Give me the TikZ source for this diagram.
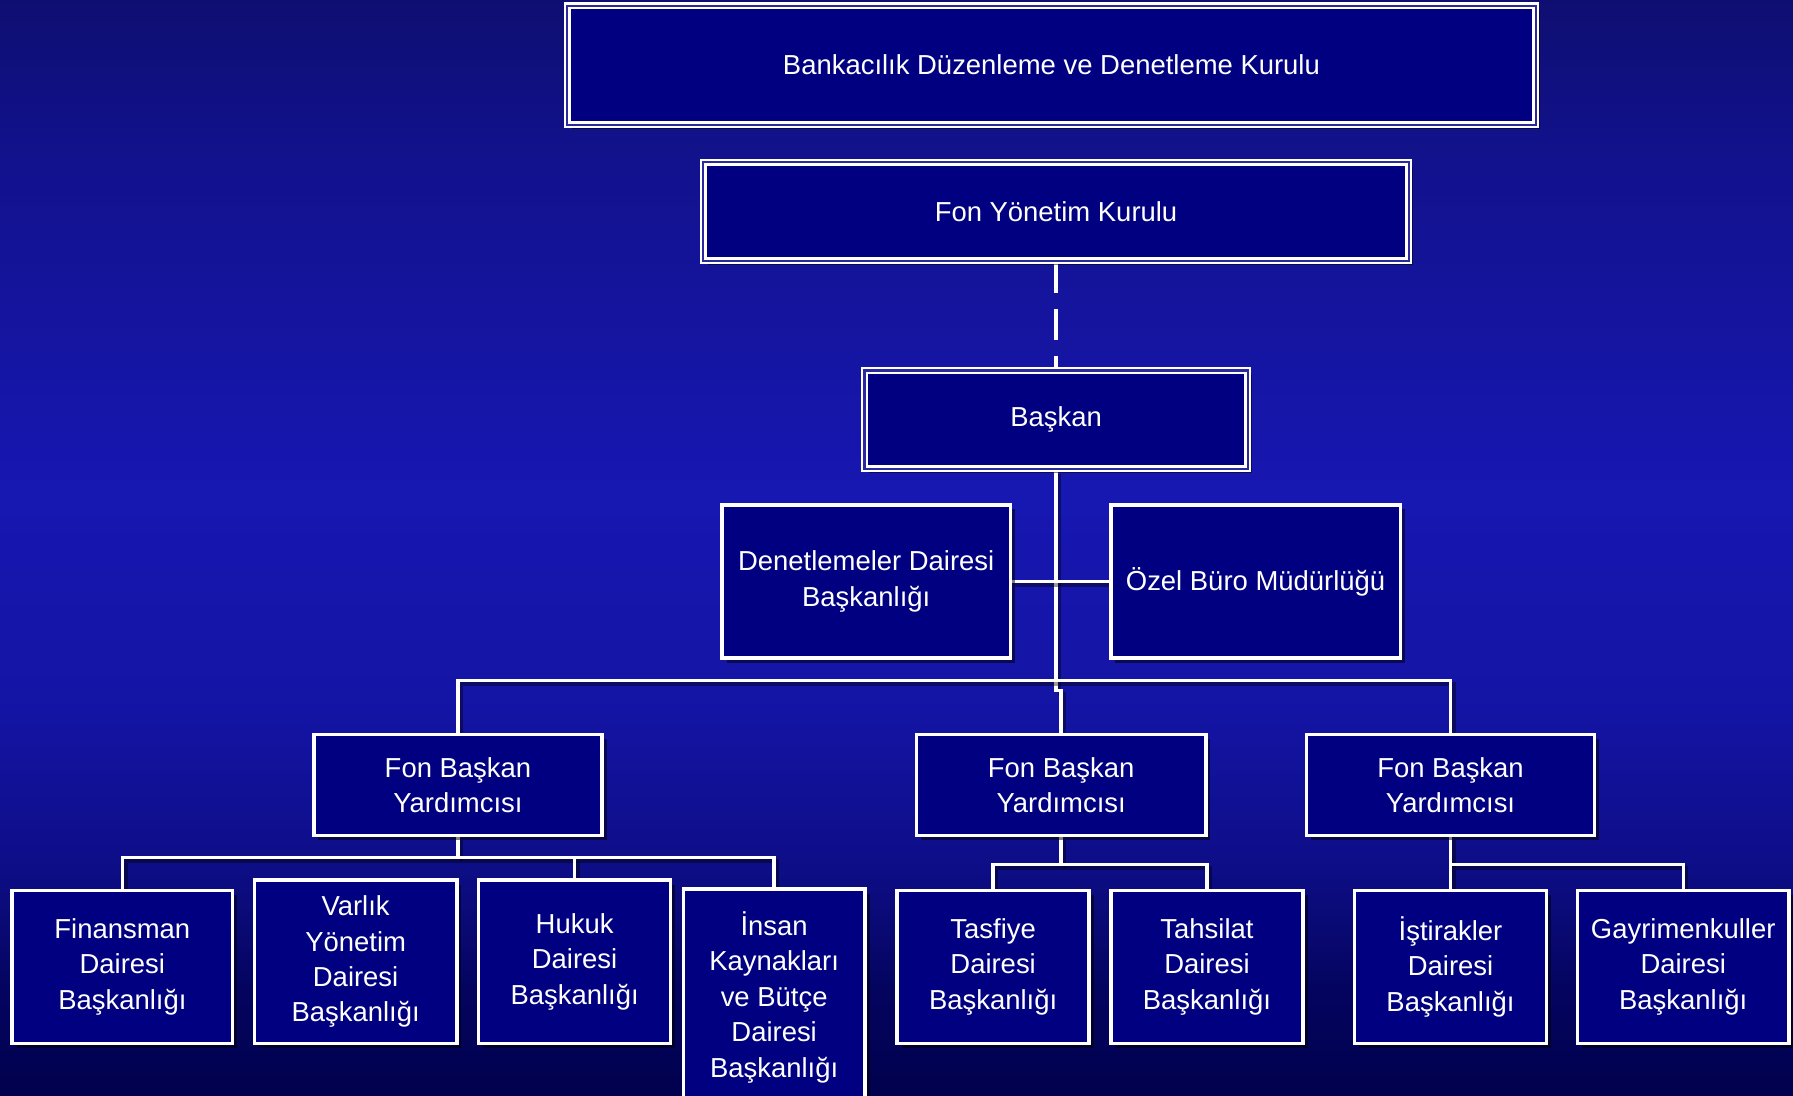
\documentclass[tikz,border=0pt]{standalone}
\usepackage{fontspec}
\setmainfont{Liberation Sans}
\usetikzlibrary{shadows}
\definecolor{boxfill}{HTML}{000080}
\definecolor{dblgap}{HTML}{2A2A9E}
\definecolor{bgA}{HTML}{01014E}
\definecolor{bgB}{HTML}{040460}
\definecolor{bgC}{HTML}{090972}
\definecolor{bgD}{HTML}{0E0E8A}
\definecolor{bgE}{HTML}{1414A4}
\definecolor{bgF}{HTML}{1717B2}
\definecolor{bgG}{HTML}{12128E}
\definecolor{bgH}{HTML}{0E0E72}
\pgfdeclareverticalshading{bgshade}{100bp}{color(0bp)=(bgA); color(25bp)=(bgA); color(30bp)=(bgB); color(32.5bp)=(bgC); color(36bp)=(bgD); color(42.5bp)=(bgE); color(52.5bp)=(bgF); color(67.5bp)=(bgG); color(75bp)=(bgH); color(100bp)=(bgH)}
\pgfdeclarelayer{bglayer}
\pgfdeclarelayer{linelayer}
\pgfsetlayers{bglayer,linelayer,main}
\tikzset{
  orgbox/.style={draw=white, line width=3pt, fill=boxfill, text=white, align=center,
    inner sep=0pt, font=\fontsize{24}{31}\selectfont,
    drop shadow={shadow xshift=4pt, shadow yshift=-4pt, fill=black, opacity=0.5}},
  dblbox/.style={orgbox, line width=2.2pt, double=dblgap, double distance=1.8pt},
  conn/.style={draw=white, line width=3pt,
    preaction={draw=black, opacity=0.4, line width=3pt, transform canvas={shift={(3pt,-3pt)}}}},
  dashconn/.style={draw=white, line width=3pt, dash pattern=on 27pt off 14pt}
}
\begin{document}
\begin{tikzpicture}[x=1pt,y=-1pt]
\useasboundingbox (0,0) rectangle (1568,958);
\begin{pgfonlayer}{bglayer}
\shade[shading=bgshade] (0,0) rectangle (1568,958);
\end{pgfonlayer}

% top levels
\node[dblbox, minimum width=847pt, minimum height=104pt] (bddk) at (919.5,57) {Bankacılık Düzenleme ve Denetleme Kurulu};
\node[dblbox, minimum width=617pt, minimum height=86pt] (fyk) at (923.5,185) {Fon Yönetim Kurulu};
\node[dblbox, minimum width=335pt, minimum height=86pt] (baskan) at (923.5,367) {\raisebox{-2pt}{Başkan}};

% staff units
\node[orgbox, minimum width=252pt, minimum height=134pt] (denet) at (757.5,508.5) {\raisebox{-2pt}{Denetlemeler Dairesi}\\\raisebox{-2pt}{Başkanlığı}};
\node[orgbox, minimum width=253pt, minimum height=134pt] (ozel) at (1098,508.5) {Özel Büro Müdürlüğü};

% vice presidents
\node[orgbox, minimum width=252pt, minimum height=88pt] (fbyl) at (400.5,686.5) {Fon Başkan\\Yardımcısı};
\node[orgbox, minimum width=253pt, minimum height=88pt] (fbym) at (928,686.5) {Fon Başkan\\Yardımcısı};
\node[orgbox, minimum width=252pt, minimum height=88pt] (fbyr) at (1268.5,686.5) {Fon Başkan\\Yardımcısı};

% departments
\node[orgbox, minimum width=193pt, minimum height=134pt] (fin) at (107,845.5) {Finansman\\Dairesi\\Başkanlığı};
\node[orgbox, minimum width=177pt, minimum height=143pt] (varlik) at (311,841) {Varlık\\Yönetim\\Dairesi\\Başkanlığı};
\node[orgbox, minimum width=168pt, minimum height=143pt] (hukuk) at (502.5,841) {Hukuk\\Dairesi\\Başkanlığı};
\node[orgbox, minimum width=159pt, minimum height=189pt] (insan) at (677,872) {İnsan\\Kaynakları\\ve Bütçe\\Dairesi\\Başkanlığı};
\node[orgbox, minimum width=168pt, minimum height=134pt] (tasfiye) at (868.5,845.5) {Tasfiye\\Dairesi\\Başkanlığı};
\node[orgbox, minimum width=168pt, minimum height=134pt] (tahsilat) at (1055.5,845.5) {Tahsilat\\Dairesi\\Başkanlığı};
\node[orgbox, minimum width=168pt, minimum height=134pt] (istirak) at (1268.5,845.5) {İştirakler\\Dairesi\\Başkanlığı};
\node[orgbox, minimum width=185pt, minimum height=134pt] (gayri) at (1472,845.5) {Gayrimenkuller\\Dairesi\\Başkanlığı};

% helper coordinates for bus lines
\coordinate (bar) at (0,595);
\coordinate (jog) at (0,604);
\coordinate (lbar) at (0,750);
\coordinate (mbar) at (0,756);

\begin{pgfonlayer}{linelayer}
\draw[dashconn] (fyk.south) -- (baskan.north);
\draw[conn] (baskan.south) -- (baskan.south |- jog) -| (fbym.north);
\draw[conn] (denet.east) -- (ozel.west);
\draw[conn] (fbyl.north) -- (fbyl.north |- bar) -- (fbyr.north |- bar) -- (fbyr.north);
% left group
\draw[conn] (fbyl.south) -- (fbyl.south |- lbar);
\draw[conn] (fin.north) -- (fin.north |- lbar) -- (insan.north |- lbar) -- (insan.north);
\draw[conn] (hukuk.north |- lbar) -- (hukuk.north);
% middle group
\draw[conn] (fbym.south) -- (fbym.south |- mbar);
\draw[conn] (tasfiye.north) -- (tasfiye.north |- mbar) -- (tahsilat.north |- mbar) -- (tahsilat.north);
% right group
\draw[conn] (fbyr.south) -- (fbyr.south |- mbar);
\draw[conn] (istirak.north) -- (istirak.north |- mbar) -- (gayri.north |- mbar) -- (gayri.north);
\end{pgfonlayer}
\end{tikzpicture}
\end{document}
